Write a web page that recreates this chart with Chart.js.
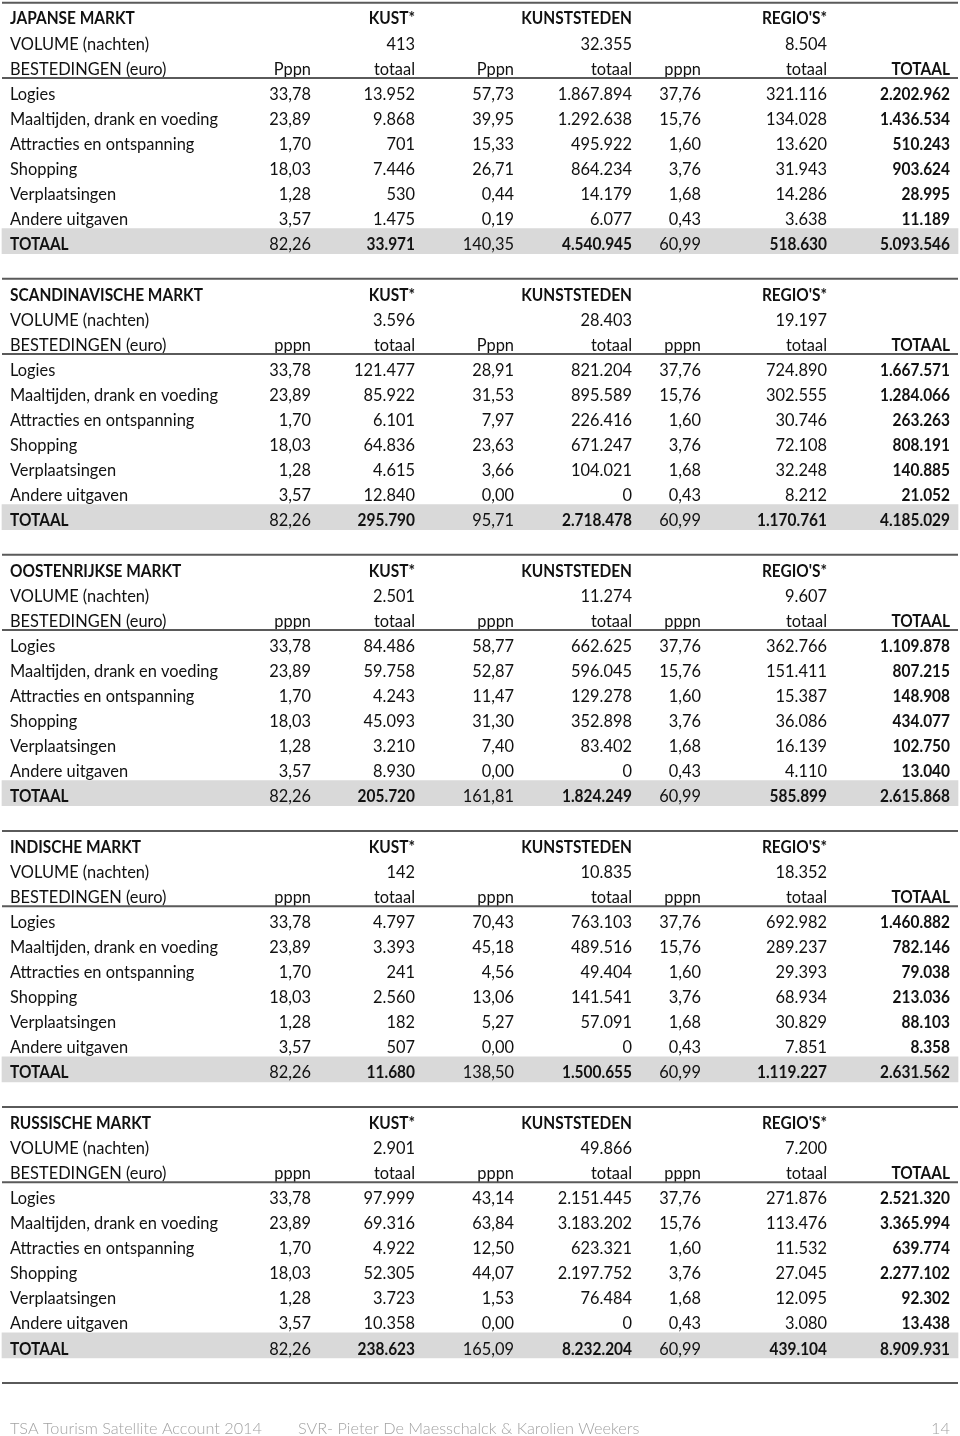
<!DOCTYPE html>
<html>
<head>
<meta charset="utf-8">
<script src="https://cdn.jsdelivr.net/npm/chart.js@4.4.1/dist/chart.umd.min.js"></script>
<style>
  html, body { margin: 0; padding: 0; background: #ffffff; }
  canvas { display: block; }
</style>
</head>
<body>
<canvas id="tabel" width="960" height="1436"></canvas>
<script>
// markten en kolomkoppen
const markten = ["JAPANSE MARKT", "SCANDINAVISCHE MARKT", "OOSTENRIJKSE MARKT", "INDISCHE MARKT", "RUSSISCHE MARKT"]
const regios = ["KUST*", "KUNSTSTEDEN", "REGIO'S*"]
const posten = ["Logies", "Maaltijden, drank en voeding", "Attracties en ontspanning", "Shopping", "Verplaatsingen", "Andere uitgaven"]
const pppnKoppen = [
    ["Pppn", "Pppn", "pppn"],
    ["pppn", "Pppn", "pppn"],
    ["pppn", "pppn", "pppn"],
    ["pppn", "pppn", "pppn"],
    ["pppn", "pppn", "pppn"]
]

// volume (nachten): kust, kunststeden, regio's
const volume = [
    [413, 32355, 8504],
    [3596, 28403, 19197],
    [2501, 11274, 9607],
    [142, 10835, 18352],
    [2901, 49866, 7200]
]

// per post, laatste waarde = TOTAAL
const kustPppn = [33.78, 23.89, 1.70, 18.03, 1.28, 3.57, 82.26]
const regioPppn = [37.76, 15.76, 1.60, 3.76, 1.68, 0.43, 60.99]

const kustTotaal = [
    [13952, 9868, 701, 7446, 530, 1475, 33971],
    [121477, 85922, 6101, 64836, 4615, 12840, 295790],
    [84486, 59758, 4243, 45093, 3210, 8930, 205720],
    [4797, 3393, 241, 2560, 182, 507, 11680],
    [97999, 69316, 4922, 52305, 3723, 10358, 238623]
]
const kunstPppn = [
    [57.73, 39.95, 15.33, 26.71, 0.44, 0.19, 140.35],
    [28.91, 31.53, 7.97, 23.63, 3.66, 0.00, 95.71],
    [58.77, 52.87, 11.47, 31.30, 7.40, 0.00, 161.81],
    [70.43, 45.18, 4.56, 13.06, 5.27, 0.00, 138.50],
    [43.14, 63.84, 12.50, 44.07, 1.53, 0.00, 165.09]
]
const kunstTotaal = [
    [1867894, 1292638, 495922, 864234, 14179, 6077, 4540945],
    [821204, 895589, 226416, 671247, 104021, 0, 2718478],
    [662625, 596045, 129278, 352898, 83402, 0, 1824249],
    [763103, 489516, 49404, 141541, 57091, 0, 1500655],
    [2151445, 3183202, 623321, 2197752, 76484, 0, 8232204]
]
const regioTotaal = [
    [321116, 134028, 13620, 31943, 14286, 3638, 518630],
    [724890, 302555, 30746, 72108, 32248, 8212, 1170761],
    [362766, 151411, 15387, 36086, 16139, 4110, 585899],
    [692982, 289237, 29393, 68934, 30829, 7851, 1119227],
    [271876, 113476, 11532, 27045, 12095, 3080, 439104]
]
const totaal = [
    [2202962, 1436534, 510243, 903624, 28995, 11189, 5093546],
    [1667571, 1284066, 263263, 808191, 140885, 21052, 4185029],
    [1109878, 807215, 148908, 434077, 102750, 13040, 2615868],
    [1460882, 782146, 79038, 213036, 88103, 8358, 2631562],
    [2521320, 3365994, 639774, 2277102, 92302, 13438, 8909931]
]

const voettekst = ["TSA Tourism Satellite Account 2014", "SVR- Pieter De Maesschalck & Karolien Weekers", "14"]

// layout (x-as eenheden): rechterrand van elke kolom
const kolomRechts = [311, 415, 514, 632, 701, 827, 950]
const labelLinks = 10

function fmtInt(n) {
    return String(n).replace(/\B(?=(\d{3})+(?!\d))/g, ".")
}
function fmtDec(n) {
    return n.toFixed(2).replace(".", ",")
}

// rijen opbouwen
const rijen = []
markten.forEach((m, i) => {
    rijen.push({soort: "kop", m: i})
    rijen.push({soort: "volume", m: i})
    rijen.push({soort: "best", m: i})
    posten.forEach((p, j) => rijen.push({soort: "post", m: i, j: j}))
    rijen.push({soort: "tot", m: i, j: 6})
    rijen.push({soort: "leeg", m: i})
})

const FONT = "Lato, 'Open Sans', sans-serif"
const KLEUR = "#111111"

const tabelPlugin = {
    id: "tabel",
    afterDatasetsDraw(chart) {
        const ctx = chart.ctx
        const x = chart.scales.x
        const y = chart.scales.y

        ctx.save()
        ctx.font = "16.5px " + FONT
        const sxReg = 208 / ctx.measureText("Maaltijden, drank en voeding").width
        ctx.font = "bold 16.5px " + FONT
        const sxBold = 70 / ctx.measureText("5.093.546").width
        ctx.restore()

        function tekst(t, kol, rij, bold) {
            const px = kol < 0 ? x.getPixelForValue(labelLinks) : x.getPixelForValue(kolomRechts[kol])
            const py = y.getPixelForValue(rij) + 9.2
            ctx.save()
            ctx.font = (bold ? "bold " : "") + "16.5px " + FONT
            ctx.fillStyle = KLEUR
            ctx.textBaseline = "alphabetic"
            ctx.textAlign = kol < 0 ? "left" : "right"
            ctx.translate(px, py)
            ctx.scale(bold ? sxBold : sxReg, 1)
            ctx.fillText(t, 0, 0)
            ctx.restore()
        }

        function lijn(pos) {
            const py = y.getPixelForValue(pos)
            ctx.save()
            ctx.strokeStyle = "#5a5a5a"
            ctx.lineWidth = 2
            ctx.beginPath()
            ctx.moveTo(x.getPixelForValue(2), py)
            ctx.lineTo(x.getPixelForValue(958), py)
            ctx.stroke()
            ctx.restore()
        }

        rijen.forEach((r, i) => {
            const m = r.m
            if (r.soort === "kop") {
                tekst(markten[m], -1, i, true)
                regios.forEach((g, k) => tekst(g, 1 + k * 2, i, true))
                lijn(i - 0.5)
            } else if (r.soort === "volume") {
                tekst("VOLUME (nachten)", -1, i, false)
                volume[m].forEach((v, k) => tekst(fmtInt(v), 1 + k * 2, i, false))
            } else if (r.soort === "best") {
                tekst("BESTEDINGEN (euro)", -1, i, false)
                pppnKoppen[m].forEach((h, k) => {
                    tekst(h, k * 2, i, false)
                    tekst("totaal", 1 + k * 2, i, false)
                })
                tekst("TOTAAL", 6, i, true)
                lijn(i + 0.5)
            } else if (r.soort === "post" || r.soort === "tot") {
                const j = r.j
                const vet = r.soort === "tot"
                tekst(vet ? "TOTAAL" : posten[j], -1, i, vet)
                tekst(fmtDec(kustPppn[j]), 0, i, false)
                tekst(fmtInt(kustTotaal[m][j]), 1, i, vet)
                tekst(fmtDec(kunstPppn[m][j]), 2, i, false)
                tekst(fmtInt(kunstTotaal[m][j]), 3, i, vet)
                tekst(fmtDec(regioPppn[j]), 4, i, false)
                tekst(fmtInt(regioTotaal[m][j]), 5, i, vet)
                tekst(fmtInt(totaal[m][j]), 6, i, true)
            }
        })
        lijn(rijen.length - 0.5)

        // voettekst
        ctx.save()
        ctx.fillStyle = "#a3a3a3"
        ctx.font = "300 15.5px " + FONT
        ctx.textBaseline = "alphabetic"
        const doelen = [[10, "left"], [298, "left"], [950, "right"]]
        const sxVoet = 252 / ctx.measureText(voettekst[0]).width
        voettekst.forEach((t, k) => {
            ctx.save()
            ctx.textAlign = doelen[k][1]
            ctx.translate(doelen[k][0], 1434)
            ctx.scale(sxVoet, 1)
            ctx.fillText(t, 0, 0)
            ctx.restore()
        })
        ctx.restore()
    }
}

const band = rijen.map((r) => r.soort === "tot" ? [2, 958] : null)

new Chart(document.getElementById("tabel"), {
    type: "bar",
    data: {
        labels: rijen.map((r, i) => "r" + i),
        datasets: [
            {
                data: band,
                backgroundColor: "#d9d9d9",
                borderWidth: 0,
                barPercentage: 1,
                categoryPercentage: 1
            }
        ]
    },
    options: {
        indexAxis: "y",
        responsive: false,
        animation: false,
        layout: {padding: {top: 2.7, bottom: 53, left: 0, right: 0}},
        scales: {
            x: {type: "linear", min: 0, max: 960, display: false},
            y: {type: "category", display: false, offset: true}
        },
        plugins: {
            legend: {display: false},
            tooltip: {enabled: false}
        }
    },
    plugins: [tabelPlugin]
})
</script>
</body>
</html>
